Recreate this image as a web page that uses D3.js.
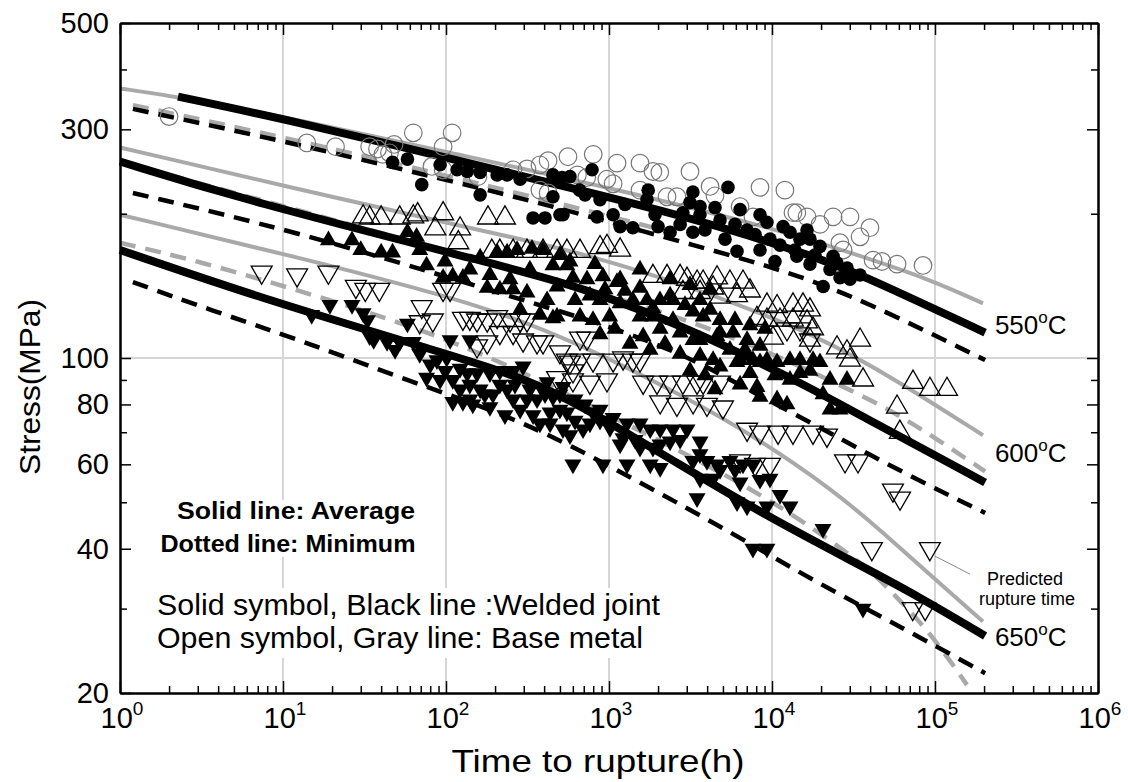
<!DOCTYPE html>
<html>
<head>
<meta charset="utf-8">
<script src="https://cdn.jsdelivr.net/npm/d3@7"></script>
<style>
  html, body { margin: 0; padding: 0; background: #fff; }
  svg { display: block; font-family: "Liberation Sans", Arial, sans-serif; }
</style>
</head>
<body>
<svg id="chart" width="1128" height="782"></svg>
<script>
// =====================
// Data: [time to rupture (h), stress (MPa)]
// =====================
const xDecades = [0, 1, 2, 3, 4, 5, 6];
const yLabelTicks = [20, 40, 60, 80, 100, 300, 500];
const yMinorTicks = [30, 50, 70, 90, 200, 400];
const gridTimes = [1e1, 1e2, 1e3, 1e4, 1e5];
const gridStress = [100];
const temps = ["550", "600", "650"];
const tempLabelStress = [117, 63.4, 26.2];
const tempLabelTime = 2.33e5;
const predictedLeader = [[1.0e5, 38.6], [1.64e5, 35.4]];

// open circles: 550C base metal
const base550 = [[2,319],[14,281],[21,276],[34,276],[38,273],[41,266],[45,268],[48,279],[63,295],[109,295],[96,276],[82,251],[96,247],[157,239],[258,247],[314,248],[377,253],[423,258],[560,263],[800,266],[377,224],[423,221],[640,241],[730,238],[970,236],[1060,231],[1120,255],[1550,255],[1860,245],[2050,244],[1550,224],[2270,217],[2610,217],[3140,245],[4170,228],[4470,218],[6370,207],[8440,227],[12000,224],[13450,201],[16400,197],[19700,190],[23700,197],[30100,197],[26100,174],[34700,179],[39900,187],[27300,168],[41700,160],[47300,159],[58500,157],[84400,156],[7640,197],[14200,201]];
// filled circles: 550C welded joint
const weld550 = [[47,256],[58,260],[71,230],[92,253],[117,247],[135,245],[162,219],[162,244],[206,241],[237,241],[285,236],[342,196],[405,196],[453,241],[515,238],[453,217],[522,199],[500,199],[576,239],[660,224],[787,247],[844,197],[1060,199],[1170,188],[1400,187],[1740,224],[1710,214],[2000,188],[2370,183],[2840,201],[3270,222],[3270,183],[3140,211],[3620,207],[4470,206],[5370,227],[6370,204],[6100,167],[7030,185],[8440,199],[9310,192],[11700,188],[12900,183],[14200,163],[16400,185],[17100,177],[19700,171],[20600,141],[23700,163],[25000,158],[28900,154],[34700,149],
  [3615,199],[4800,194],[5930,190],[7870,181],[9720,177],[11200,172],[13830,168],[14850,177],[18360,164],[22700,153],[26140,147],[8440,168],[5150,177],[3880,185],[2730,190],[1915,199],[1254,209],[881,214],[713,219],[30100,146],[10430,159],[17100,157]];
// open triangles up: 600C base metal
const base600 = [[31,197],[34,196],[40,196],[52,196],[63,197],[67,199],[96,200],[86,186],[122,186],[119,174],[181,196],[230,196],[191,167],[214,167],[258,167],[314,167],[394,167],[480,167],[552,167],[664,167],[881,170],[972,171],[1170,168],[1860,148],[2270,148],[2730,148],[3010,146],[3470,144],[3780,144],[4600,147],[5520,144],[6640,144],[2840,137],[3620,137],[4350,140],[4800,134],[6100,135],[7330,138],[9310,129],[10740,128],[13450,129],[15490,129],[17100,126],[8090,121],[9310,120],[11200,120],[13450,120],[16400,119],[17850,115],[10140,110],[17100,109],[25050,105],[28850,103],[30100,99],[34700,109],[36200,90],[73300,89],[93100,86],[118500,86],[58500,79],[60900,70]];
// filled triangles up: 600C welded joint
const weld600 = [[19,176],[26.5,176],[30,168],[40,166],[47,166],[58,183],[66,179],[76,156],[96,147],[110,148],[127,147],[162,162],[206,166],[237,166],[273,168],[337,169],[394,168],[179,140],[214,139],[258,139],[314,137],[417,132],[480,141],[453,156],[552,156],[601,147],[733,146],[918,148],[1120,144],[1170,146],[881,132],[1170,130],[1400,132],[1710,132],[1860,127],[2370,135],[2470,132],[3280,125],[4170,126],[453,121],[480,122],[664,122],[798,120],[1010,122],[1550,122],[1860,122],[2470,120],[3780,122],[1620,111],[2060,115],[2730,113],[3280,109],[3620,109],[4600,111],[4800,113],[5770,113],[7030,109],[8440,106],[3620,101],[4350,99],[4800,96],[6100,98],[6370,99],[7640,99],[7330,93],[9310,99],[10740,98],[12890,99],[14850,99],[17850,99],[19690,98],[8090,87],[10740,82],[12360,80],[14850,93],[22700,90],[28850,90],[22700,78],[26140,78],
  [619,132],[764,135],[945,139],[1254,138],[1550,140],[2055,132],[2925,129],[3615,132],[4800,120],[5930,120],[7330,117],[9060,115],[5520,104],[6830,104],[8440,98],[10430,92],[12890,90],[17100,94],[20550,84],[881,112],[1088,115],[1345,107],[1785,104],[2206,107],[2730,102],[3140,94],[3880,92],[4470,86],[6370,88],[8440,83],[820,157],[576,159],[1550,153],[2366,146],[3140,142],[4170,139],[500,164],[327,153],[247,146],[186,149],[140,153],[98.6,159],[69,168],[285,126],[377,123]];
// open triangles down: 650C base metal
const base650 = [[7.4,151],[12.2,149],[19,151],[28,141],[32,139],[39,139],[71,128],[69,119],[83,120],[96,139],[106,139],[127,121],[140,121],[155,120],[179,120],[206,122],[247,120],[285,120],[314,120],[155,106],[179,108],[214,113],[258,113],[297,109],[362,108],[394,108],[500,103],[576,98],[601,94],[664,110],[733,110],[552,99],[664,99],[798,99],[1060,99],[1220,100],[1400,99],[1550,99],[480,91],[601,90],[764,89],[972,90],[1620,89],[1970,89],[2370,89],[2840,89],[3470,89],[3780,89],[4800,89],[2060,81],[2610,80],[3280,81],[3990,80],[5000,79],[7030,71],[8440,70],[10890,70],[13450,70],[17850,70],[21740,69],[6370,61],[7870,60],[9720,60],[12360,115],[14850,115],[17100,109],[28050,61],[33700,61],[55200,53],[61000,51],[41000,40],[93000,40],[73000,30],[87000,30]];
// filled triangles down: 650C welded joint
const weld650 = [[15,123],[19.4,129],[26.5,129],[31,124],[33,120],[34,111],[36,109],[43.5,108],[52,108],[58,118],[63,108],[106,109],[140,109],[88,99],[101,100],[76,91],[92,90],[110,90],[122,95],[135,93],[155,93],[186,93],[214,94],[258,94],[297,96],[417,89],[522,87],[110,81],[127,81],[146,80],[186,79],[194,84],[237,86],[258,82],[314,82],[362,82],[342,76],[377,73],[435,73],[500,78],[522,71],[576,69],[601,60],[453,83],[552,77],[693,71],[798,77],[881,74],[1060,75],[1290,73],[1550,73],[1790,71],[2060,71],[2470,71],[3010,71],[1220,68],[1550,65],[1860,65],[2370,67],[3620,67],[3270,61],[3990,61],[4600,60],[5520,61],[6640,60],[7640,60],[918,60],[1290,60],[1790,60],[2060,59],[3620,56],[4350,56],[6370,55],[9720,56],[3470,51],[6100,50],[7030,49],[9310,49],[12890,49],[20550,44],[7640,40],[9310,40],[36150,30],
  [48.7,104],[69,102],[80,97],[99,94],[140,88],[162,86],[214,88],[265,88],[327,86],[405,84],[500,84],[619,82],[713,80],[881,78],[285,78],[230,76],[173,84],[140,82],[122,86],[435,77],[619,74],[764,73],[1014,71.5],[1170,66],[1445,67.5],[2055,66],[2730,67.5],[3615,63],[4800,58.4],[5930,58.4],[8440,55.7],[11200,51.8]];

// fitted curves (average = solid, minimum = dashed)
const base550Avg = [[1,365],[2.27,351],[12.7,314],[100,269],[1000,227],[1e4,187],[31800,165],[93100,146],[1.97e5,130]];
const base550Min = [[1.2,337],[12.7,284],[214,226],[2000,186]];
const weld550Avg = [[2.27,351],[12.7,310],[100,262],[664,224],[3620,194],[21740,160],[46000,143],[2.03e5,113]];
const weld550Min = [[1.2,331],[12.7,279],[214,221],[453,207],[3776,170],[12890,151],[36200,132],[2.03e5,99]];

const base600Avg = [[1,275],[23.3,214],[214,181],[664,166],[3620,139],[19690,111],[60960,89],[1.97e5,69]];
const base600Min = [[1,257],[214,156],[3620,120],[30100,86],[60960,76],[1.42e5,63],[2.03e5,58]];
const weld600Avg = [[1,257],[5.68,214],[214,156],[664,141],[3620,113],[17850,86],[30100,78],[2.03e5,55]];
const weld600Min = [[1.2,221],[12.7,183],[179,139],[1168,115],[3620,98],[7030,86],[17850,73],[60960,58],[2.03e5,47.5]];

const base650Avg = [[1,199],[12.7,162],[169,129],[664,107],[3140,82],[8440,67.5],[23700,53],[46000,43.8],[93100,35.3],[1.97e5,28.2]];
const base650Min = [[1,174],[3.1,159],[12.7,138],[52,119],[214,99],[1168,74],[8090,53],[25050,40.7],[39900,36.1],[55200,32.3],[93100,26.8],[1.57e5,20.8]];
const weld650Avg = [[1,168],[7.98,132],[101,102],[285,91.4],[664,80],[2730,59.8],[9720,46.4],[30100,37.9],[81000,31.7],[2.03e5,26.3]];
const weld650Min = [[1.2,144],[3.57,126],[12.7,109],[52,91],[214,77],[576,65.9],[1785,53.6],[5520,43.4],[14850,35.6],[39900,29.7],[1.07e5,24.8],[2.03e5,22]];

// =====================
// Chart
// =====================
const svg = d3.select("#chart");
const x = d3.scaleLog().domain([1, 1e6]).range([120, 1098]);
const y = d3.scaleLog().domain([20, 500]).range([693, 23]);

const GRAY = "#a9a9a9";

// grid lines
svg.append("g").selectAll("line").data(gridTimes).join("line")
  .attr("x1", d => x(d)).attr("x2", d => x(d))
  .attr("y1", y(500)).attr("y2", y(20))
  .attr("stroke", "#d6d6d6").attr("stroke-width", 2);
svg.append("g").selectAll("line").data(gridStress).join("line")
  .attr("x1", x(1)).attr("x2", x(1e6))
  .attr("y1", d => y(d)).attr("y2", d => y(d))
  .attr("stroke", "#d6d6d6").attr("stroke-width", 2);

// white boxes behind the notes
svg.append("rect").attr("x", 168).attr("y", 500).attr("width", 256).attr("height", 57).attr("fill", "#fff");
svg.append("rect").attr("x", 150).attr("y", 588).attr("width", 518).attr("height", 70).attr("fill", "#fff");

// curves
const line = d3.line().x(d => x(d[0])).y(d => y(d[1])).curve(d3.curveBasis);
const curves = [
  { data: base550Min, color: GRAY, w: 4.5, dash: "16,10" },
  { data: base600Min, color: GRAY, w: 4.5, dash: "16,10" },
  { data: base650Min, color: GRAY, w: 4.5, dash: "16,10" },
  { data: base550Avg, color: GRAY, w: 4 },
  { data: base600Avg, color: GRAY, w: 4 },
  { data: base650Avg, color: GRAY, w: 4 },
  { data: weld550Min, color: "#000", w: 4.5, dash: "16,10" },
  { data: weld600Min, color: "#000", w: 4.5, dash: "16,10" },
  { data: weld650Min, color: "#000", w: 4.5, dash: "16,10" },
  { data: weld550Avg, color: "#000", w: 8 },
  { data: weld600Avg, color: "#000", w: 8 },
  { data: weld650Avg, color: "#000", w: 8 }
];
svg.append("g").selectAll("path").data(curves).join("path")
  .attr("d", d => line(d.data))
  .attr("fill", "none")
  .attr("stroke", d => d.color)
  .attr("stroke-width", d => d.w)
  .attr("stroke-dasharray", d => d.dash || null);

// symbols
const marks = svg.append("g");
marks.append("g").selectAll("circle").data(base550).join("circle")
  .attr("cx", d => x(d[0])).attr("cy", d => y(d[1])).attr("r", 8.8)
  .attr("fill", "none").attr("stroke", "#777").attr("stroke-width", 1.2);

const triOpen = d3.symbol().type(d3.symbolTriangle).size(190);
const triFilled = d3.symbol().type(d3.symbolTriangle).size(125);

marks.append("g").selectAll("path").data(base600).join("path")
  .attr("d", triOpen)
  .attr("transform", d => `translate(${x(d[0])},${y(d[1])})`)
  .attr("fill", "none").attr("stroke", "#000").attr("stroke-width", 1.3);
marks.append("g").selectAll("path").data(base650).join("path")
  .attr("d", triOpen)
  .attr("transform", d => `translate(${x(d[0])},${y(d[1])}) rotate(180)`)
  .attr("fill", "none").attr("stroke", "#000").attr("stroke-width", 1.3);

marks.append("g").selectAll("circle").data(weld550).join("circle")
  .attr("cx", d => x(d[0])).attr("cy", d => y(d[1])).attr("r", 6.8)
  .attr("fill", "#000");
marks.append("g").selectAll("path").data(weld600).join("path")
  .attr("d", triFilled)
  .attr("transform", d => `translate(${x(d[0])},${y(d[1])})`)
  .attr("fill", "#000");
marks.append("g").selectAll("path").data(weld650).join("path")
  .attr("d", triFilled)
  .attr("transform", d => `translate(${x(d[0])},${y(d[1])}) rotate(180)`)
  .attr("fill", "#000");

// axes (ticks inward on all four sides)
const xMajor = xDecades.map(e => Math.pow(10, e));
const xMinor = [];
xDecades.slice(0, 6).forEach(e => { for (let k = 2; k <= 9; k++) xMinor.push(k * Math.pow(10, e)); });

function cleanAxis(g) {
  g.selectAll("text").remove();
  g.select(".domain").attr("stroke-width", 2);
  g.selectAll(".tick line").attr("stroke-width", 1.5);
}
const ax = svg.append("g");
ax.append("g").attr("transform", "translate(0,693)")
  .call(d3.axisBottom(x).tickValues(xMinor).tickSize(-7).tickSizeOuter(0)).call(cleanAxis);
ax.append("g").attr("transform", "translate(0,693)")
  .call(d3.axisBottom(x).tickValues(xMajor).tickSize(-12).tickSizeOuter(0)).call(cleanAxis);
ax.append("g").attr("transform", "translate(0,23)")
  .call(d3.axisTop(x).tickValues(xMinor).tickSize(-7).tickSizeOuter(0)).call(cleanAxis);
ax.append("g").attr("transform", "translate(0,23)")
  .call(d3.axisTop(x).tickValues(xMajor).tickSize(-12).tickSizeOuter(0)).call(cleanAxis);
ax.append("g").attr("transform", "translate(120,0)")
  .call(d3.axisLeft(y).tickValues(yMinorTicks).tickSize(-7).tickSizeOuter(0)).call(cleanAxis);
ax.append("g").attr("transform", "translate(120,0)")
  .call(d3.axisLeft(y).tickValues(yLabelTicks).tickSize(-11).tickSizeOuter(0)).call(cleanAxis);
ax.append("g").attr("transform", "translate(1098,0)")
  .call(d3.axisRight(y).tickValues(yMinorTicks).tickSize(-7).tickSizeOuter(0)).call(cleanAxis);
ax.append("g").attr("transform", "translate(1098,0)")
  .call(d3.axisRight(y).tickValues(yLabelTicks).tickSize(-11).tickSizeOuter(0)).call(cleanAxis);

// tick labels
svg.append("g").selectAll("text").data(yLabelTicks).join("text")
  .attr("x", 109).attr("y", d => y(d) + 10)
  .attr("text-anchor", "end").attr("font-size", 29)
  .text(d => d);

const xl = svg.append("g").selectAll("text").data(xDecades).join("text")
  .attr("x", d => x(Math.pow(10, d)) + 2).attr("y", 728)
  .attr("text-anchor", "middle").attr("font-size", 29);
xl.append("tspan").text("10");
xl.append("tspan").attr("dy", -13).attr("font-size", 19).text(d => d);

// axis titles
svg.append("text").attr("x", 598).attr("y", 772)
  .attr("text-anchor", "middle").attr("font-size", 32)
  .attr("textLength", 293).attr("lengthAdjust", "spacingAndGlyphs")
  .text("Time to rupture(h)");
svg.append("text").attr("transform", "translate(40,387) rotate(-90)")
  .attr("text-anchor", "middle").attr("font-size", 30)
  .attr("textLength", 176).attr("lengthAdjust", "spacingAndGlyphs")
  .text("Stress(MPa)");

// temperature labels
const tl = svg.append("g").selectAll("text").data(temps).join("text")
  .attr("x", x(tempLabelTime)).attr("y", (d, i) => y(tempLabelStress[i]) + 9)
  .attr("font-size", 26);
tl.append("tspan").text(d => d);
tl.append("tspan").attr("dy", -11).attr("font-size", 17).text("o");
tl.append("tspan").attr("dy", 11).text("C");

// notes
svg.append("text").attr("x", 296).attr("y", 519).attr("text-anchor", "middle")
  .attr("font-size", 23).attr("font-weight", "bold")
  .attr("textLength", 238).attr("lengthAdjust", "spacingAndGlyphs")
  .text("Solid line: Average");
svg.append("text").attr("x", 288).attr("y", 552).attr("text-anchor", "middle")
  .attr("font-size", 23).attr("font-weight", "bold")
  .attr("textLength", 255).attr("lengthAdjust", "spacingAndGlyphs")
  .text("Dotted line: Minimum");
svg.append("text").attr("x", 157).attr("y", 615)
  .attr("font-size", 29).attr("textLength", 503).attr("lengthAdjust", "spacingAndGlyphs")
  .text("Solid symbol, Black line :Welded joint");
svg.append("text").attr("x", 157).attr("y", 648)
  .attr("font-size", 29).attr("textLength", 486).attr("lengthAdjust", "spacingAndGlyphs")
  .text("Open symbol, Gray line: Base metal");

// predicted rupture time annotation
svg.append("path").attr("d", d3.line().x(d => x(d[0])).y(d => y(d[1]))(predictedLeader))
  .attr("stroke", "#888").attr("stroke-width", 1).attr("fill", "none");
svg.append("text").attr("x", 1025).attr("y", 585).attr("text-anchor", "middle")
  .attr("font-size", 18).text("Predicted");
svg.append("text").attr("x", 1027).attr("y", 605).attr("text-anchor", "middle")
  .attr("font-size", 18).text("rupture time");
</script>
</body>
</html>
